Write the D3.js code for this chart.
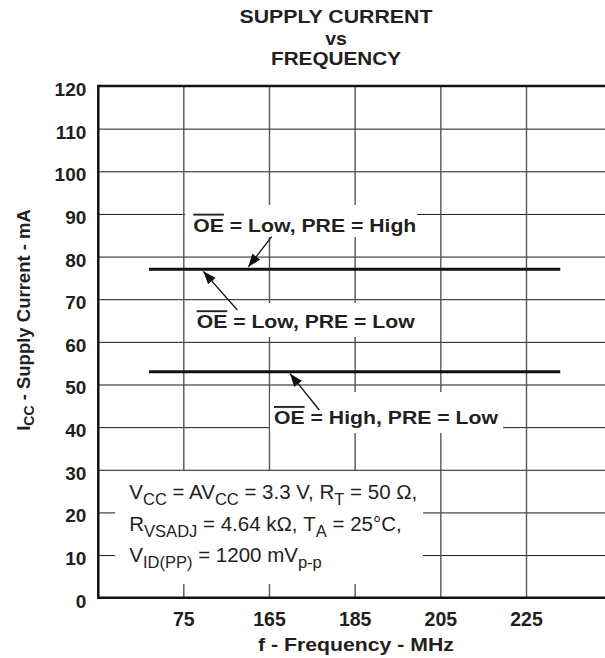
<!DOCTYPE html>
<html>
<head>
<meta charset="utf-8">
<script src="https://cdn.jsdelivr.net/npm/d3@7"></script>
<style>
  body { margin: 0; background: #fff; }
  svg { display: block; }
  text { font-family: "Liberation Sans", Arial, sans-serif; fill: #231f20; }
</style>
</head>
<body>
<div id="chart"></div>
<script>
// values
const freqTicks = [75, 165, 185, 205, 225];
const currentTicks = [0, 10, 20, 30, 40, 50, 60, 70, 80, 90, 100, 110, 120];
const seriesCurrent = [77, 53];
const seriesFreqStart = [39, 39];
const seriesFreqEnd = [233, 233];
const curveLabels = ["OE = Low, PRE = High", "OE = Low, PRE = Low", "OE = High, PRE = Low"];

function init() {
	width = 605;
	height = 658;
	margin = { top: 86, right: -7, bottom: 60.3, left: 98.3 };

	const svg = d3.select("#chart").append("svg")
		.attr("width", width)
		.attr("height", height);

	// index position of each tick, then frequency -> index (piecewise)
	const xIdx = d3.scaleLinear().domain([0, freqTicks.length - 1]).range([183.3, 526]);
	x = d3.scaleLinear()
		.domain(freqTicks)
		.range(freqTicks.map((d, i) => xIdx(i)));

	y = d3.scaleLinear()
		.domain([0, 120])
		.range([height - margin.bottom, margin.top]);

	const x0 = margin.left, x1 = width - margin.right;
	const y0 = y(0), y1 = y(120);

	// horizontal grid + y labels
	const yAxis = svg.append("g")
		.attr("transform", `translate(${x0},0)`)
		.call(d3.axisLeft(y).tickValues(currentTicks).tickSize(-(x1 - x0)).tickPadding(12));
	yAxis.select(".domain").remove();
	yAxis.selectAll(".tick line").attr("stroke", "#1a1a1a").attr("stroke-width", 1);
	yAxis.selectAll(".tick text")
		.attr("dy", "0.5em")
		.style("font-size", "19px")
		.style("font-weight", "bold");

	// vertical grid + x labels
	const xAxis = svg.append("g")
		.attr("transform", `translate(0,${y0})`)
		.call(d3.axisBottom(x).tickValues(freqTicks).tickFormat(d3.format("d")).tickSize(-(y0 - y1)).tickPadding(14));
	xAxis.select(".domain").remove();
	xAxis.selectAll(".tick line").attr("stroke", "#555").attr("stroke-width", 1.4);
	xAxis.selectAll(".tick text")
		.style("font-size", "19.5px")
		.style("font-weight", "bold");

	// frame
	svg.append("line").attr("x1", x0).attr("x2", x1).attr("y1", y1).attr("y2", y1)
		.attr("stroke", "#111").attr("stroke-width", 2.5);
	svg.append("line").attr("x1", x0).attr("x2", x1).attr("y1", y0).attr("y2", y0)
		.attr("stroke", "#111").attr("stroke-width", 2.5);
	svg.append("line").attr("x1", x0).attr("x2", x0).attr("y1", y1 - 1.2).attr("y2", y0 + 1.2)
		.attr("stroke", "#111").attr("stroke-width", 2.5);

	// white boxes behind the labels
	const boxes = [
		[185, 205, 232, 32],
		[188, 303, 230, 34],
		[270, 392, 233, 41],
		[115, y(30) + 1.3, 308, 113]
	];
	svg.selectAll("rect.box").data(boxes).join("rect")
		.attr("class", "box")
		.attr("x", (d) => d[0]).attr("y", (d) => d[1])
		.attr("width", (d) => d[2]).attr("height", (d) => d[3])
		.attr("fill", "#fff");

	// the two curves
	svg.selectAll("line.series").data(seriesCurrent).join("line")
		.attr("class", "series")
		.attr("x1", (d, i) => x(seriesFreqStart[i]))
		.attr("x2", (d, i) => x(seriesFreqEnd[i]))
		.attr("y1", (d) => y(d))
		.attr("y2", (d) => y(d))
		.attr("stroke", "#111")
		.attr("stroke-width", 3);

	// arrows
	svg.append("defs").append("marker")
		.attr("id", "head")
		.attr("viewBox", "0 -5 13 10")
		.attr("refX", 13).attr("refY", 0)
		.attr("markerWidth", 13).attr("markerHeight", 10)
		.attr("markerUnits", "userSpaceOnUse")
		.attr("orient", "auto")
		.append("path").attr("d", "M0,-5L13,0L0,5Z").attr("fill", "#111");

	const notes = [
		{ tx: 193.3, ty: 231.7, len: 223, from: [271.7, 236.7], to: [248.3, y(seriesCurrent[0]) - 2.5] },
		{ tx: 196.7, ty: 328.3, len: 218, from: [237.3, 310], to: [203.3, y(seriesCurrent[0]) + 2] },
		{ tx: 274, ty: 424, len: 224, from: [319.3, 410], to: [290, y(seriesCurrent[1]) + 2] }
	];

	svg.selectAll("line.arrow").data(notes).join("line")
		.attr("class", "arrow")
		.attr("x1", (d) => d.from[0]).attr("y1", (d) => d.from[1])
		.attr("x2", (d) => d.to[0]).attr("y2", (d) => d.to[1])
		.attr("stroke", "#111").attr("stroke-width", 1.3)
		.attr("marker-end", "url(#head)");

	notes.forEach((n, i) => {
		const t = svg.append("text")
			.attr("x", n.tx).attr("y", n.ty)
			.attr("textLength", n.len)
			.attr("lengthAdjust", "spacingAndGlyphs")
			.style("font-size", "18.5px")
			.style("font-weight", "bold");
		t.append("tspan").style("text-decoration", "overline").text(curveLabels[i].slice(0, 2));
		t.append("tspan").text(curveLabels[i].slice(2));
	});

	// conditions
	const cond = [
		[["V", 0], ["CC", 1], [" = AV", 0], ["CC", 1], [" = 3.3 V, R", 0], ["T", 1], [" = 50 Ω,", 0]],
		[["R", 0], ["VSADJ", 1], [" = 4.64 kΩ, T", 0], ["A", 1], [" = 25°C,", 0]],
		[["V", 0], ["ID(PP)", 1], [" = 1200 mV", 0], ["p-p", 1]]
	];
	const condY = [499, 531, 562];
	cond.forEach((segs, i) => {
		const t = svg.append("text")
			.attr("x", 129.3).attr("y", condY[i])
			.style("font-size", "20.5px");
		let down = 0;
		segs.forEach(([s, sub]) => {
			const shift = sub ? 6 : 0;
			t.append("tspan")
				.attr("dy", shift - down)
				.style("font-size", sub ? "16.5px" : "20.5px")
				.text(s);
			down = shift;
		});
	});

	// titles
	const title = [["SUPPLY CURRENT", 22.7, 193], ["vs", 45, 21.7], ["FREQUENCY", 65, 130]];
	svg.selectAll("text.title").data(title).join("text")
		.attr("class", "title")
		.attr("x", (d) => 336 - d[2] / 2)
		.attr("y", (d) => d[1])
		.attr("textLength", (d) => d[2])
		.attr("lengthAdjust", "spacingAndGlyphs")
		.style("font-size", "18.5px")
		.style("font-weight", "bold")
		.text((d) => d[0]);

	svg.append("text")
		.attr("x", 356 - 98).attr("y", 651)
		.attr("textLength", 196)
		.attr("lengthAdjust", "spacingAndGlyphs")
		.style("font-size", "18.5px")
		.style("font-weight", "bold")
		.text("f - Frequency - MHz");

	const yl = svg.append("text")
		.attr("transform", "translate(29.5,320) rotate(-90)")
		.attr("text-anchor", "middle")
		.style("font-size", "18.5px")
		.style("font-weight", "bold");
	yl.append("tspan").text("I");
	yl.append("tspan").attr("dy", 4).style("font-size", "14px").text("CC");
	yl.append("tspan").attr("dy", -4).text(" - Supply Current - mA");
}

init();
</script>
</body>
</html>
